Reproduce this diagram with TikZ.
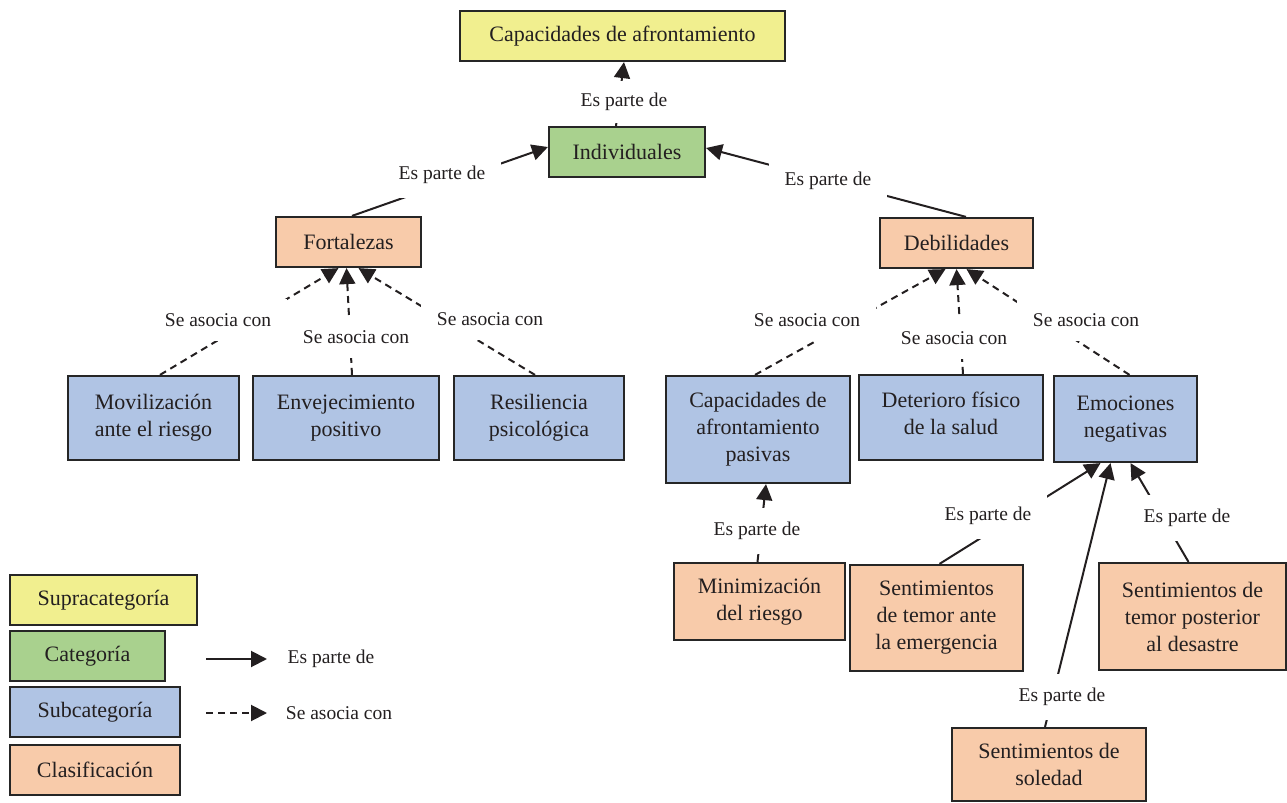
\documentclass[tikz,border=0pt]{standalone}
\usepackage{fontspec}
\setmainfont{Liberation Serif}
\usetikzlibrary{arrows.meta,calc}
\definecolor{cyel}{HTML}{F1EF8F}
\definecolor{cgrn}{HTML}{A9D18E}
\definecolor{cblu}{HTML}{B0C4E4}
\definecolor{csal}{HTML}{F8CBAA}
\definecolor{ink}{HTML}{231F20}
\definecolor{edge}{HTML}{262626}
\begin{document}
\begin{tikzpicture}[x=0.5pt,y=-0.5pt,
  box/.style={draw=edge,line width=1.1pt,rectangle,align=center,text=ink,
    font=\fontsize{11}{13.5}\selectfont,inner sep=0pt},
  ybox/.style={box,fill=cyel},
  gbox/.style={box,fill=cgrn},
  bbox/.style={box,fill=cblu},
  sbox/.style={box,fill=csal},
  boxtext/.style={align=center,text=ink,font=\fontsize{11}{13.5}\selectfont,inner sep=0pt},
  lab/.style={fill=white,text=ink,font=\fontsize{9.75}{12}\selectfont,inner xsep=8pt,inner ysep=7pt},
  parte/.style={draw=ink,line width=1pt,-{Triangle[length=8pt,width=8pt]}},
  asoc/.style={draw=ink,line width=1pt,dash pattern=on 3.5pt off 2.5pt,-{Triangle[length=8pt,width=8pt]}},
]
\useasboundingbox (0,0) rectangle (1287,803);
% nodes
\node[ybox,minimum width=162.5pt,minimum height=25pt] (cap) at (622.5,36) {Capacidades de afrontamiento};
\node[gbox,minimum width=78pt,minimum height=25pt] (ind) at (627,152) {Individuales};
\node[sbox,minimum width=72.5pt,minimum height=25pt] (fort) at (348.5,242) {Fortalezas};
\node[sbox,minimum width=76.5pt,minimum height=25pt] (deb) at (956.5,243) {Debilidades};
\node[bbox,minimum width=85.5pt,minimum height=42pt] (mov) at (153.5,418) {Movilización\\ante el riesgo};
\node[bbox,minimum width=93pt,minimum height=42pt] (env) at (346,418) {Envejecimiento\\positivo};
\node[bbox,minimum width=85pt,minimum height=42pt] (res) at (539,418) {Resiliencia\\psicológica};
\node[bbox,minimum width=92pt,minimum height=53.5pt] (cpas) at (758,429.5) {Capacidades de\\afrontamiento\\pasivas};
\node[bbox,minimum width=92pt,minimum height=42.5pt] (det) at (951,417.5) {};
\node[boxtext] (dett) at ($(det.center)+(0,-4)$) {Deterioro físico\\de la salud};
\node[bbox,minimum width=71.5pt,minimum height=43pt] (emo) at (1125.5,419) {Emociones\\negativas};
\node[sbox,minimum width=85.5pt,minimum height=38.5pt] (min) at (759.5,601.5) {Minimización\\del riesgo};
\node[sbox,minimum width=86.5pt,minimum height=53pt] (stem) at (936.5,618) {Sentimientos\\de temor ante\\la emergencia};
\node[sbox,minimum width=93.5pt,minimum height=53.5pt] (spost) at (1192.5,616.5) {Sentimientos de\\temor posterior\\al desastre};
\node[sbox,minimum width=97pt,minimum height=36.5pt] (sol) at (1049,764.5) {Sentimientos de\\soledad};
% legend
\node[ybox,minimum width=93.5pt,minimum height=25pt] (lsup) at (103.5,600) {Supracategoría};
\node[gbox,minimum width=77.5pt,minimum height=25pt] (lcat) at (87.5,656) {Categoría};
\node[bbox,minimum width=85pt,minimum height=25pt] (lsub) at (95,712) {Subcategoría};
\node[sbox,minimum width=85pt,minimum height=25pt] (lcla) at (95,770) {Clasificación};
\coordinate (la1) at (206,659); \coordinate (lb1) at (267,659);
\coordinate (la2) at (206,713); \coordinate (lb2) at (267,713);
\draw[parte] (la1) -- (lb1);
\draw[asoc] (la2) -- (lb2);
\node[lab,fill=none] (lt1) at (331,659) {Es parte de};
\node[lab,fill=none] (lt2) at (339,713) {Se asocia con};
% connectors
\draw[parte] ($(ind.north)+(-11,0)$) -- ($(cap.south)+(1.5,0)$);
\node[lab,inner ysep=6pt] (e1) at (624,102) {Es parte de};
\draw[parte] ($(fort.north)+(3.5,0)$) -- ($(ind.west)+(0,-5)$);
\node[lab] (e2) at (442,175) {Es parte de};
\draw[parte] ($(deb.north)+(9.5,0)$) -- ($(ind.east)+(0,-4)$);
\node[lab] (e3) at (828,181) {Es parte de};
\draw[asoc] ($(mov.north)+(6.5,0)$) -- ($(fort.south)+(-10,0)$);
\node[lab] (a1) at (218,320) {Se asocia con};
\draw[asoc] ($(env.north)+(6,0)$) -- ($(fort.south)+(-2,0)$);
\node[lab] (a2) at (356,337) {Se asocia con};
\draw[asoc] ($(res.north)+(-4,0)$) -- ($(fort.south)+(10,0)$);
\node[lab] (a3) at (490,319) {Se asocia con};
\draw[asoc] ($(cpas.north)+(-3,0)$) -- ($(deb.south)+(-11,0)$);
\node[lab] (a4) at (807,320) {Se asocia con};
\draw[asoc] ($(det.north)+(12,0)$) -- ($(deb.south)+(0,0)$);
\node[lab] (a5) at (954,338) {Se asocia con};
\draw[asoc] ($(emo.north)+(4,0)$) -- ($(deb.south)+(10,0)$);
\node[lab] (a6) at (1086,320) {Se asocia con};
\draw[parte] ($(min.north)+(-2,0)$) -- ($(cpas.south)+(8,0)$);
\node[lab] (e4) at (757,531) {Es parte de};
\draw[parte] ($(stem.north)+(3,0)$) -- ($(emo.south)+(-25,0)$);
\node[lab] (e5) at (988,516) {Es parte de};
\draw[parte] ($(sol.north)+(-4,0)$) -- ($(emo.south)+(-15,0)$);
\node[lab] (e6) at (1062,697) {Es parte de};
\draw[parte] ($(spost.north)+(-4,0)$) -- ($(emo.south)+(5,0)$);
\node[lab] (e7) at (1187,518) {Es parte de};
\end{tikzpicture}
\end{document}
